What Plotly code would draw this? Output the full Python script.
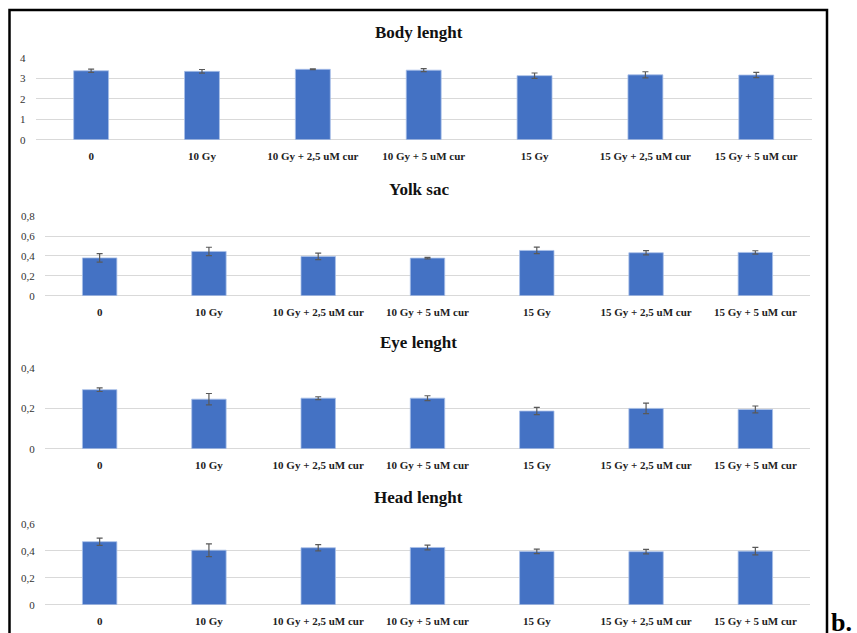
import plotly.graph_objects as go

categories = ["0", "10 Gy", "10 Gy + 2,5 uM cur", "10 Gy + 5 uM cur",
              "15 Gy", "15 Gy + 2,5 uM cur", "15 Gy + 5 uM cur"]

body_length = [3.38, 3.35, 3.45, 3.41, 3.14, 3.18, 3.17]
body_length_err = [0.08, 0.09, 0.02, 0.07, 0.13, 0.15, 0.13]

yolk_sac = [0.38, 0.445, 0.395, 0.378, 0.455, 0.432, 0.435]
yolk_sac_err = [0.042, 0.042, 0.033, 0.008, 0.033, 0.022, 0.017]

eye_length = [0.293, 0.246, 0.251, 0.251, 0.187, 0.200, 0.195]
eye_length_err = [0.009, 0.028, 0.007, 0.012, 0.018, 0.026, 0.017]

head_length = [0.467, 0.404, 0.422, 0.424, 0.395, 0.393, 0.397]
head_length_err = [0.027, 0.047, 0.023, 0.017, 0.017, 0.017, 0.028]

titles = ["Body lenght", "Yolk sac", "Eye lenght", "Head lenght"]
y_max = [4, 0.8, 0.4, 0.6]
y_step = [1, 0.2, 0.2, 0.2]

W, H = 857, 633
BAR = "#4472C4"
GRID = "#d9d9d9"
SERIF = "Liberation Serif, Times New Roman, serif"


def px_y(y):
    # screen pixel (from top) -> paper fraction; small correction for the capture's vertical squeeze
    return 1 - ((y - 5.6) / 0.981) / H


# pixel geometry of each panel: (left, right, top, bottom)
panels = [(35.7, 811.7, 57.7, 139.3),
          (45, 810, 215.7, 295.3),
          (45, 810, 367.7, 448.3),
          (45, 810, 523.3, 604.3)]
title_y = [32, 189, 342, 497]

series = [(body_length, body_length_err), (yolk_sac, yolk_sac_err),
          (eye_length, eye_length_err), (head_length, head_length_err)]

fig = go.Figure()
layout = dict(
    width=W, height=H,
    margin=dict(l=0, r=0, t=0, b=0),
    paper_bgcolor="white", plot_bgcolor="white",
    showlegend=False, separators=",.",
    bargap=0.685,
    font=dict(family=SERIF, color="#222222"),
)
annotations = []

for i, ((vals, errs), (l, r, t, b)) in enumerate(zip(series, panels)):
    n = "" if i == 0 else str(i + 1)
    fig.add_trace(go.Bar(
        x=categories, y=vals,
        error_y=dict(type="data", array=errs, color="#595959", thickness=1.2, width=3),
        marker=dict(color=BAR, line=dict(color="#A9C0E8", width=0.8)),
        xaxis="x" + n, yaxis="y" + n,
    ))
    layout["xaxis" + n] = dict(
        domain=[l / W, r / W], anchor="y" + n,
        showgrid=False, showline=False, zeroline=False,
        ticks="outside", ticklen=6, tickcolor="rgba(0,0,0,0)",
        tickfont=dict(family=SERIF, size=11, color="#222222", weight="bold"),
        tickangle=0,
    )
    layout["yaxis" + n] = dict(
        domain=[px_y(b), px_y(t)], anchor="x" + n,
        range=[0, y_max[i]], dtick=y_step[i], tick0=0,
        showgrid=True, gridcolor=GRID, gridwidth=1,
        zeroline=True, zerolinecolor=GRID, zerolinewidth=1,
        showline=False,
        ticks="outside", ticklen=7, tickcolor="rgba(0,0,0,0)",
        tickfont=dict(family=SERIF, size=11, color="#333333"),
    )
    annotations.append(dict(
        x=418.5 / W, y=px_y(title_y[i]), xref="paper", yref="paper",
        text="<b>" + titles[i] + "</b>", showarrow=False,
        xanchor="center", yanchor="middle",
        font=dict(family=SERIF, size=17, color="#111111"),
    ))

annotations.append(dict(
    x=829 / W, y=px_y(606), xref="paper", yref="paper",
    text="<b>b.</b>", showarrow=False, xanchor="left", yanchor="top",
    font=dict(family=SERIF, size=26, color="black"),
))

layout["annotations"] = annotations
layout["shapes"] = [dict(
    type="rect", xref="paper", yref="paper",
    x0=9.5 / W, x1=827 / W, y0=-0.05, y1=px_y(9.5),
    line=dict(color="black", width=2.5), fillcolor="rgba(0,0,0,0)",
)]

fig.update_layout(**layout)
# pin the page to exactly the figure size so nothing is offset
page_js = ("var s='margin:0;padding:0;overflow:hidden;height:633px;width:857px;';"
           "document.documentElement.style.cssText=s;document.body.style.cssText=s;")
fig.write_html("out.html", config={"displayModeBar": False}, post_script=page_js)
